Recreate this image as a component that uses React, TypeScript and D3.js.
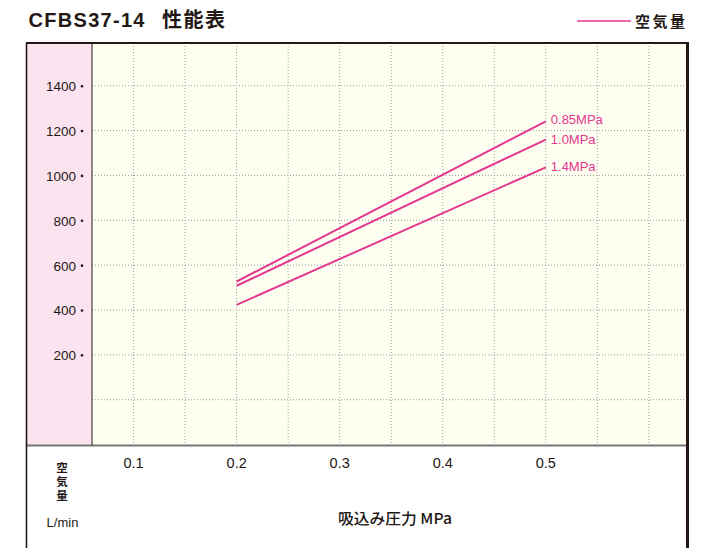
import React from "react";
import * as d3 from "d3";

const pressures = [0.2, 0.5];
const seriesLabels = ["0.85MPa", "1.0MPa", "1.4MPa"];
const series085 = [527, 1241];
const series10 = [508, 1160];
const series14 = [423, 1036];
const yTicks = [200, 400, 600, 800, 1000, 1200, 1400];
const yGrid = [0, 200, 400, 600, 800, 1000, 1200, 1400];
const xTicks = [0.1, 0.2, 0.3, 0.4, 0.5];
const xGrid = [0.1, 0.15, 0.2, 0.25, 0.3, 0.35, 0.4, 0.45, 0.5, 0.55, 0.6];
const title = "CFBS37-14";
const titleJa = "性能表";
const legendLabel = "空気量";
const yUnitVertical = "空気量";
const yUnit = "L/min";
const xLabel = "吸込み圧力 MPa";

const MAG = "#e2388e";
const DARK = "#231815";
const FONT = "'Liberation Sans', Arial, 'Noto Sans CJK JP', sans-serif";
const JFONT = "'Noto Sans CJK JP', 'Liberation Sans', sans-serif";

export default function App() {
  const x = d3.scaleLinear().domain([0.1, 0.5]).range([133.6, 545.8]);
  const y = d3.scaleLinear().domain([0, 1400]).range([399.7, 85.7]);
  const left = 26, pinkR = 92, right = 686, top = 43, bottom = 445.5;
  const line = d3.line<[number, number]>().x((d) => x(d[0])).y((d) => y(d[1]));
  const all = [series085, series10, series14];

  return (
    <svg width={713} height={548} style={{ position: "absolute", left: 0, top: 0 }}>
      <rect x={0} y={0} width={713} height={548} fill="#fff" />
      <text x={28.5} y={27} fontFamily={FONT} fontWeight="bold" fontSize={20} fill={DARK} letterSpacing={1.3}>
        {title}
      </text>
      <text x={162} y={27} fontFamily={JFONT} fontWeight="bold" fontSize={20} fill={DARK} letterSpacing={1.5}>
        {titleJa}
      </text>
      <line x1={577} x2={631} y1={21} y2={21} stroke={MAG} strokeWidth={1.5} />
      <text x={635} y={26.5} fontFamily={JFONT} fontWeight="bold" fontSize={15} fill={DARK} letterSpacing={2.5}>
        {legendLabel}
      </text>

      <rect x={left} y={top} width={pinkR - left} height={bottom - top} fill="#fbe4ef" />
      <rect x={pinkR} y={top} width={right - pinkR} height={bottom - top} fill="#fefef1" />

      {xGrid.map((v) => (
        <line key={"xg" + v} x1={x(v)} x2={x(v)} y1={top} y2={bottom} stroke="#9a9a9a" strokeWidth={1} strokeDasharray="1,2" />
      ))}
      {yGrid.map((v) => (
        <line key={"yg" + v} x1={pinkR} x2={right} y1={y(v)} y2={y(v)} stroke="#9a9a9a" strokeWidth={1} strokeDasharray="1,2" />
      ))}

      <line x1={left} x2={right} y1={bottom} y2={bottom} stroke="#777" strokeWidth={1.8} />
      <line x1={pinkR} x2={pinkR} y1={top} y2={bottom} stroke={DARK} strokeWidth={1} />
      <line x1={left} x2={689} y1={top} y2={top} stroke={DARK} strokeWidth={2} />
      <line x1={left + 0.5} x2={left + 0.5} y1={top} y2={548} stroke={DARK} strokeWidth={1.6} />
      <line x1={687.5} x2={687.5} y1={top - 1} y2={548} stroke={DARK} strokeWidth={3} />

      {yTicks.map((v) => (
        <g key={"yt" + v}>
          <text x={76} y={y(v) + 5.5} textAnchor="end" fontFamily={FONT} fontSize={13.5} fill={DARK}>
            {v}
          </text>
          <circle cx={82} cy={y(v) + 0.5} r={1.3} fill={DARK} />
        </g>
      ))}
      {xTicks.map((v) => (
        <text key={"xt" + v} x={x(v)} y={468} textAnchor="middle" fontFamily={FONT} fontSize={14.5} fill={DARK}>
          {v.toFixed(1)}
        </text>
      ))}

      {all.map((s, i) => (
        <path
          key={"s" + i}
          d={line(pressures.map((p, j) => [p, s[j]] as [number, number])) || ""}
          fill="none"
          stroke={MAG}
          strokeWidth={2}
        />
      ))}
      {all.map((s, i) => (
        <text key={"sl" + i} x={x(pressures[1]) + 5} y={y(s[1]) + [3, 4, 4][i]} fontFamily={FONT} fontSize={13} fill={MAG}>
          {seriesLabels[i]}
        </text>
      ))}

      <text
        x={62}
        y={462}
        fontFamily={JFONT}
        fontWeight="bold"
        fontSize={11.5}
        fill={DARK}
        letterSpacing={2.5}
        style={{ writingMode: "vertical-rl" }}
      >
        {yUnitVertical}
      </text>
      <text x={62.5} y={527} textAnchor="middle" fontFamily={FONT} fontSize={13} fill={DARK}>
        {yUnit}
      </text>
      <text
        x={338}
        y={524}
        fontFamily={JFONT}
        fontWeight={500}
        fontSize={15}
        fill={DARK}
        textLength={114}
        lengthAdjust="spacingAndGlyphs"
      >
        {xLabel}
      </text>
    </svg>
  );
}
